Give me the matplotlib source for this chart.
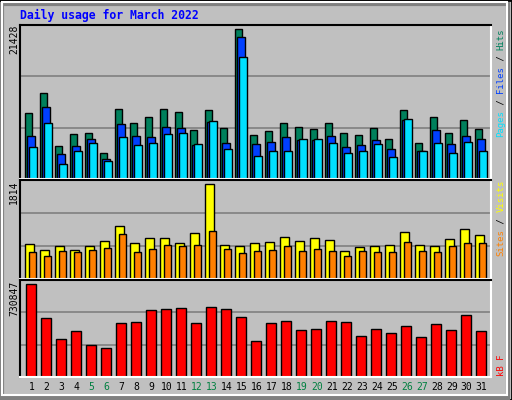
import numpy as np
import matplotlib.pyplot as plt
from matplotlib.patches import Rectangle

# ---- data ----
days = np.arange(1, 32)
weekend = [5, 6, 12, 13, 19, 20, 26, 27]
hits = [9502, 12265, 4703, 6448, 6593, 3684, 10084, 8048, 8920, 10084, 9648, 7030,
        9938, 7320, 21428, 6302, 6884, 8048, 7466, 7175, 8048, 6593, 6302, 7320,
        5721, 9938, 5139, 8920, 6593, 8484, 7175]
files = [6157, 10375, 3539, 4703, 5721, 2812, 7902, 6157, 6012, 7466, 7320, 4848,
         8193, 5139, 20410, 4993, 5284, 6012, 5575, 5575, 6157, 4557, 4848, 5575,
         4266, 8484, 3975, 7030, 4993, 6157, 5721]
pages = [4557, 8048, 2085, 3975, 5139, 2521, 6012, 4848, 5139, 6448, 6593, 4993,
         8339, 4266, 17501, 3248, 3975, 3975, 5721, 5721, 5139, 3684, 3975, 4993,
         3103, 8629, 3975, 5139, 3684, 5284, 3975]
visits = [675, 557, 635, 557, 635, 733, 1009, 694, 792, 792, 694, 891, 1814, 655,
          635, 694, 714, 812, 733, 792, 753, 537, 616, 635, 655, 910, 655, 635,
          773, 950, 851]
sites = [517, 439, 537, 517, 557, 596, 871, 517, 576, 655, 635, 655, 930, 576,
         498, 537, 557, 635, 537, 576, 537, 439, 537, 517, 517, 714, 537, 517,
         635, 694, 694]
kbytes = [730847, 458776, 298738, 362753, 250726, 226720, 426768, 434770, 522791,
          530793, 538795, 426768, 546797, 530793, 466778, 282734, 426768, 442772,
          370755, 378757, 442772, 434770, 322743, 378757, 346749, 402762, 314741,
          418766, 370755, 482781, 362753]

W, H = 512, 400
bg = '#c0c0c0'
mono = 'DejaVu Sans Mono'
fig = plt.figure(figsize=(W / 100, H / 100), dpi=100, facecolor=bg)


def px_rect(x0, y0, x1, y1):
    # pixel box (top-left origin) -> figure fraction
    return [x0 / W, 1 - y1 / H, (x1 - x0) / W, (y1 - y0) / H]


# outer bevel border
fig.patches.append(Rectangle((0, 0), 1, 1, transform=fig.transFigure, fill=False,
                             ec='black', lw=2))
fig.patches.append(Rectangle((2 / W, 2 / H), 1 - 6 / W, 1 - 6 / H, transform=fig.transFigure,
                             fill=False, ec='#808080', lw=3))
fig.patches.append(Rectangle((2 / W, 5 / H), 1 - 7 / W, 1 - 7 / H, transform=fig.transFigure,
                             fill=False, ec='white', lw=1.5))

s = days - 1 + 0.33  # left edge of each day slot (15 px per day)


def panel(box, top, n_int):
    ax = fig.add_axes(px_rect(*box))
    ax.set_facecolor(bg)
    ax.set_xlim(0, (box[2] - box[0]) / 15)
    ax.set_ylim(0, top)
    ax.set_xticks([])
    ax.set_yticks([])
    for k in range(1, n_int):
        ax.axhline(top * k / n_int, color='#808080', lw=1.2, zorder=0)
    for side in ['top', 'left']:
        ax.spines[side].set_color('black')
    for side in ['bottom', 'right']:
        ax.spines[side].set_color('white')
    for sp in ax.spines.values():
        sp.set_linewidth(1.5)
    return ax


def bars(ax, off, w, vals, col):
    ax.bar(s + off, vals, width=w, align='edge', color=col, edgecolor='black', lw=1)


ax1 = panel((20, 25, 491, 179), 21428 * 455 / 442, 3)
bars(ax1, 0.0, 0.5, hits, '#00805c')
bars(ax1, 0.15, 0.5, files, '#0040ff')
bars(ax1, 0.28, 0.55, pages, '#00e0ff')

ax2 = panel((20, 180, 491, 279), 1814 * 290 / 277, 3)
bars(ax2, 0.0, 0.57, visits, '#ffff00')
bars(ax2, 0.28, 0.47, sites, '#ff8000')

ax3 = panel((20, 280, 491, 377), 730847 * 285 / 274, 3)
bars(ax3, 0.07, 0.69, kbytes, '#ff0000')

for d in days:
    ax3.text(s[d - 1] + 0.45, -0.05, str(d), transform=ax3.get_xaxis_transform(),
             ha='center', va='top', fontsize=7, family=mono,
             color='#008040' if d in weekend else 'black')

fig.text(20 / W, 1 - 15 / H, 'Daily usage for March 2022', color='#0000ff',
         fontsize=8.3, fontweight='bold', family=mono, va='center')

for ytop, lab in [(25, '21428'), (181, '1814'), (281, '730847')]:
    fig.text(14 / W, 1 - ytop / H, lab, rotation=90, ha='center', va='top',
             fontsize=7, family=mono)

# vertical legends on the right, built up from the bottom
cw = 5.45


def vlegend(ybottom, pieces):
    y = ybottom
    for txt, col in pieces:
        fig.text(501 / W, 1 - y / H, txt, rotation=90, ha='center', va='bottom',
                 fontsize=6.5, family=mono, color=col)
        y -= cw * len(txt)


vlegend(137, [('Pages', '#00e0ff'), (' / ', 'black'), ('Files', '#0040ff'),
              (' / ', 'black'), ('Hits', '#00805c')])
vlegend(256, [('Sites', '#ff8000'), (' / ', 'black'), ('Visits', '#ffff00')])
vlegend(376, [('kB F', '#ff0000')])

fig.savefig('out.png', dpi=100, facecolor=bg)
